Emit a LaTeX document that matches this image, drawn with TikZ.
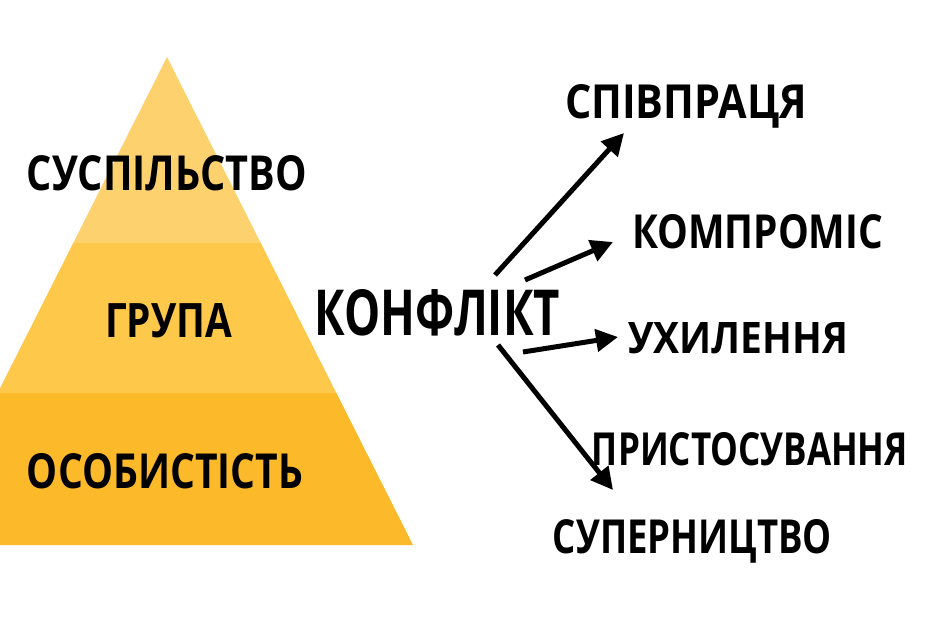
\documentclass[tikz,border=0pt]{standalone}
\usepackage{fontspec}
\usepackage{graphicx}
\newfontfamily\lblfont{Open Sans}[FakeStretch=0.85]
\usetikzlibrary{arrows.meta, calc}
\definecolor{pyrtop}{HTML}{FDD16E}
\definecolor{pyrmid}{HTML}{FEC84B}
\definecolor{pyrbot}{HTML}{FCB92A}
\newcommand{\fitlbl}[3]{\resizebox{#1pt}{#2pt}{#3}} % width, cap height, text
\tikzset{
    lbl/.style={font=\lblfont\bfseries\fontsize{48}{48}\selectfont, anchor=base, inner sep=0pt}, % text of every label
    arr/.style={-{Triangle[length=22pt,width=22pt]}, line width=5pt}, % thick arrows
}

\begin{document}
\begin{tikzpicture}[x=1pt, y=-1pt]
    \path[use as bounding box, clip] (0,0) rectangle (940,627);
    % pyramid
    \coordinate (apex) at (167,57);
    \coordinate (bl) at (-79,545);
    \coordinate (br) at (413,545);
    \fill[pyrbot] ($(apex)!0.6885!(bl)$) -- ($(apex)!0.6885!(br)$) -- (br) -- (bl) -- cycle;
    \fill[pyrmid] ($(apex)!0.381!(bl)$) -- ($(apex)!0.381!(br)$) -- ($(apex)!0.6885!(br)$) -- ($(apex)!0.6885!(bl)$) -- cycle;
    \fill[pyrtop] (apex) -- ($(apex)!0.381!(br)$) -- ($(apex)!0.381!(bl)$) -- cycle;
    \node[lbl] (society) at (167,190) {\fitlbl{280}{35}{СУСПІЛЬСТВО}};
    \node[lbl] (group) at (168.5,337) {\fitlbl{127}{34}{ГРУПА}};
    \node[lbl] (person) at (165,488) {\fitlbl{276}{35}{ОСОБИСТІСТЬ}};
    % conflict and its outcomes
    \node[lbl] (conflict) at (437.5,335) {\fitlbl{245}{46}{КОНФЛІКТ}};
    \node[lbl] (coop) at (686,118) {\fitlbl{242}{34}{СПІВПРАЦЯ}};
    \node[lbl] (compr) at (757.5,248) {\fitlbl{251}{34}{КОМПРОМІС}};
    \node[lbl] (avoid) at (738,353) {\fitlbl{220}{31}{УХИЛЕННЯ}};
    \node[lbl] (adapt) at (750,465) {\fitlbl{316}{33}{ПРИСТОСУВАННЯ}};
    \node[lbl] (rival) at (692.5,553) {\fitlbl{279}{34}{СУПЕРНИЦТВО}};
    \coordinate (s1) at (495,275);
    \coordinate (s2) at (525,280);
    \coordinate (s3) at (523,352);
    \coordinate (s4) at (498,345);
    \coordinate (e1) at (624,133);
    \coordinate (e2) at (613,242);
    \coordinate (e3) at (618,337);
    \coordinate (e4) at (613,490);
    \draw[arr] (s1) -- (e1);
    \draw[arr] (s2) -- (e2);
    \draw[arr] (s3) -- (e3);
    \draw[arr] (s4) -- (e4);
\end{tikzpicture}
\end{document}
